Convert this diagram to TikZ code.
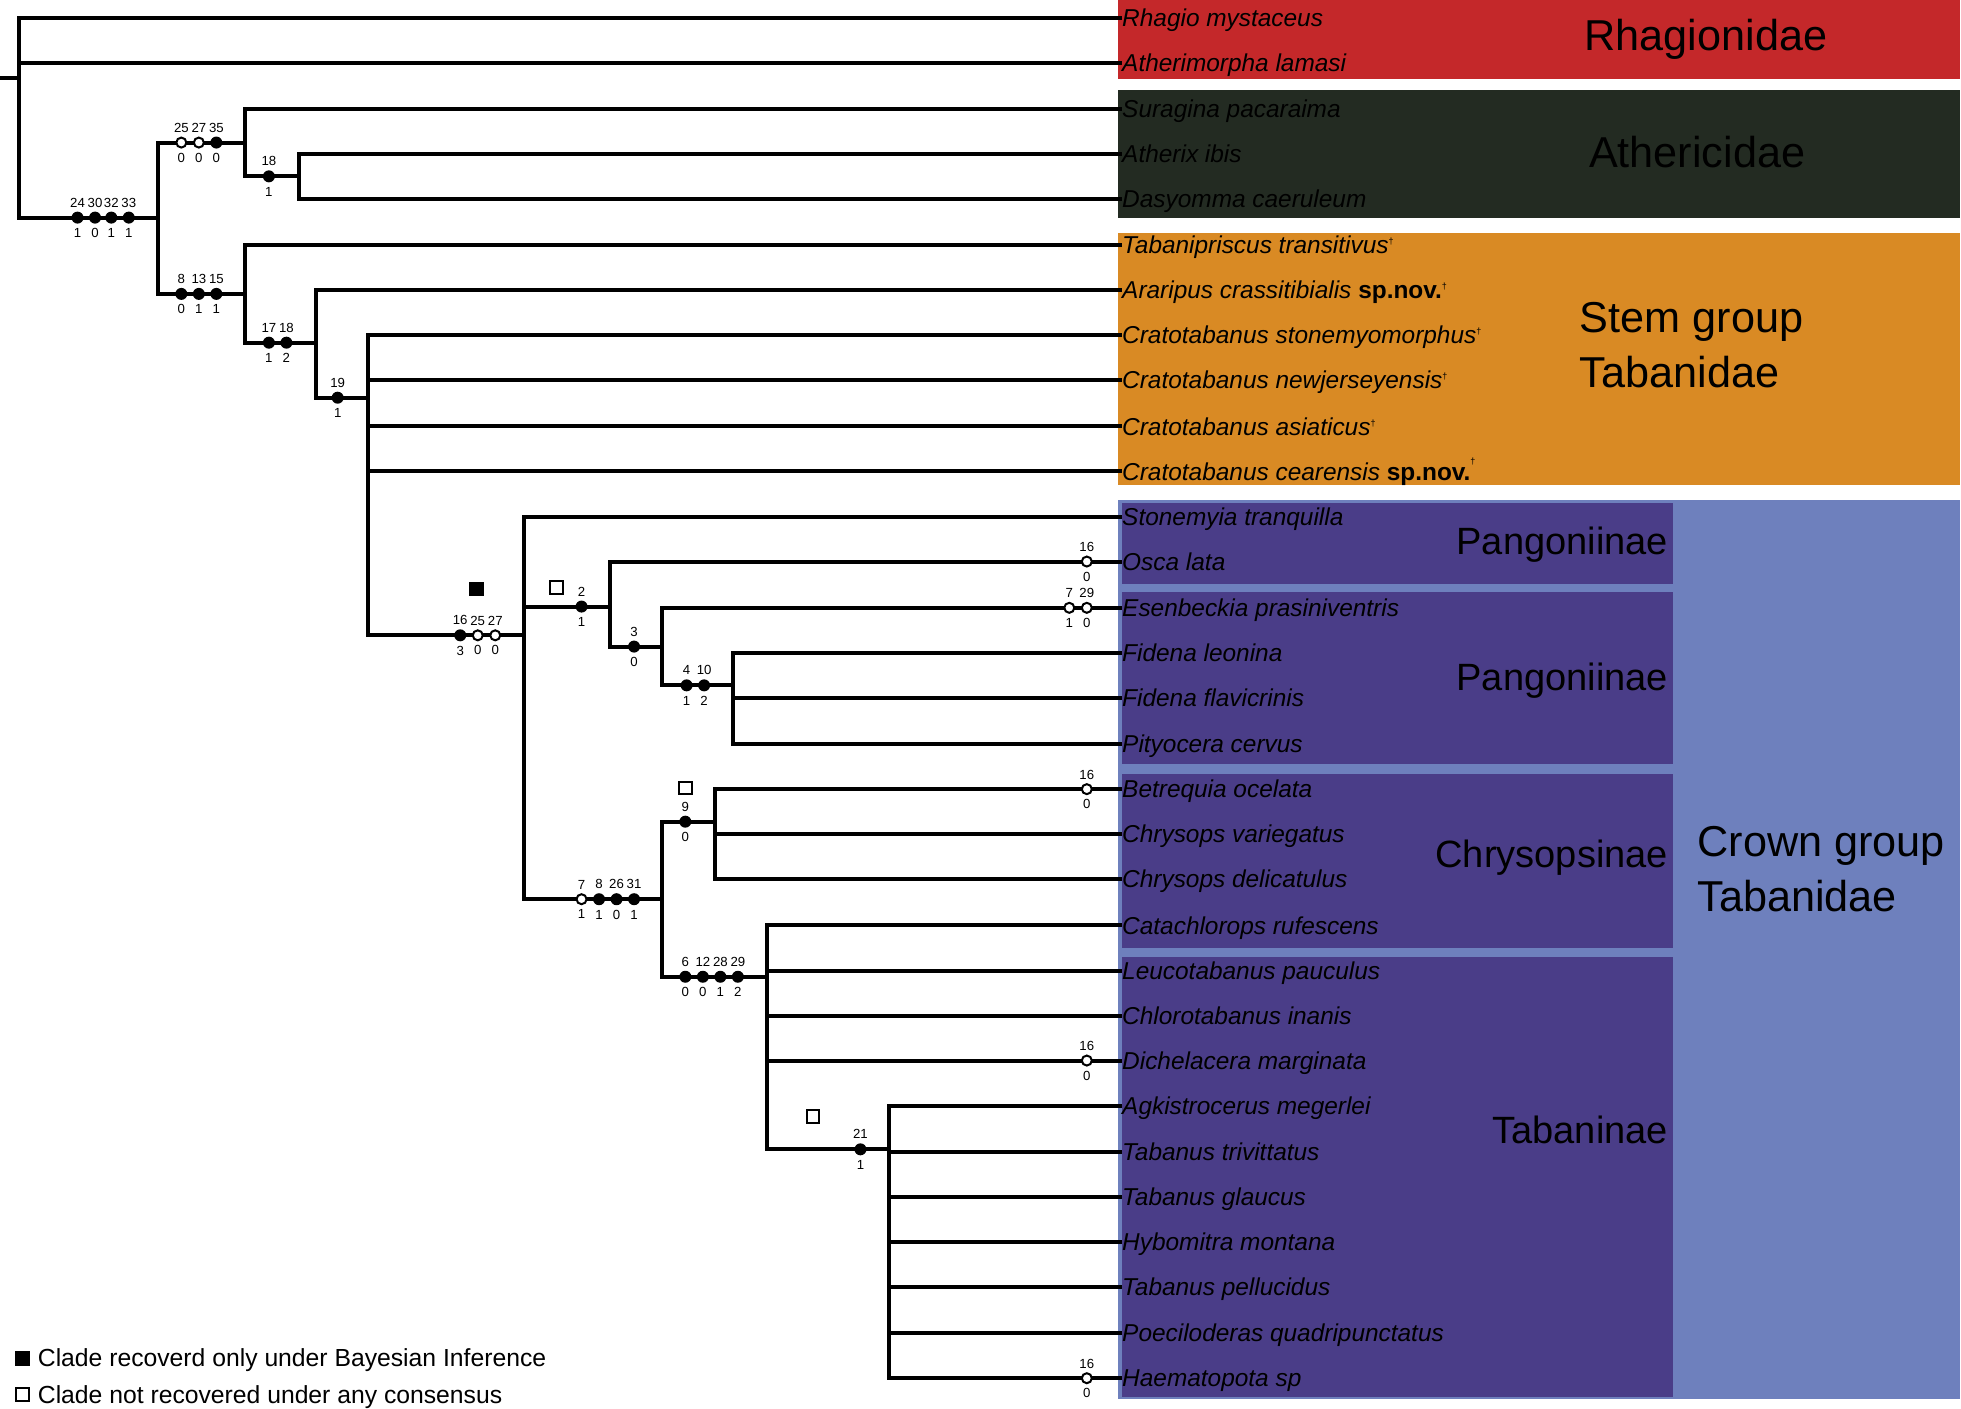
\documentclass[tikz,border=0pt]{standalone}
\usepackage{fontspec}
\setmainfont{Liberation Sans}
\definecolor{rhagred}{HTML}{C4282A}
\definecolor{athdark}{HTML}{232B22}
\definecolor{stemorange}{HTML}{D98A24}
\definecolor{crownblue}{HTML}{6E80BD}
\definecolor{subpurple}{HTML}{4A3D88}
\newcommand{\fossil}[1][4.5pt]{\raisebox{#1}{\upshape\fontsize{4.5}{5}\selectfont †}}
\newcommand{\spnov}{\textbf{\upshape sp.nov.}}

\begin{document}
\begin{tikzpicture}[x=0.625pt,y=-0.625pt,
  br/.style={line width=2pt},
  fmark/.style={circle,fill=black,inner sep=0pt,minimum size=6pt},
  omark/.style={circle,draw=black,fill=white,line width=1pt,inner sep=0pt,minimum size=5pt},
  label distance=1.8pt,
  every label/.style={font=\fontsize{6.6}{6.6}\selectfont,inner sep=0pt,text height=4.8pt,text depth=0pt},
  taxon/.style={anchor=west,inner sep=0pt,text height=8.7pt,text depth=0pt,font=\fontsize{12.2}{14}\selectfont\itshape},
  clade/.style={font=\fontsize{21.6}{27.5}\selectfont,inner sep=0pt},
  subfam/.style={font=\fontsize{19}{22}\selectfont,inner sep=0pt,anchor=base east},
  legtext/.style={anchor=west,inner sep=0pt,text height=8.7pt,text depth=0pt,font=\fontsize{12.35}{14}\selectfont},
  fsq/.style={rectangle,fill=black,inner sep=0pt,minimum size=7.2pt},
  osq/.style={rectangle,draw=black,fill=white,line width=1pt,inner sep=0pt,minimum size=6.4pt}]
\useasboundingbox (0,0) rectangle (1568,1126);

\fill[rhagred] (894,0) rectangle (1567,63);
\fill[athdark] (894,72) rectangle (1567,174);
\fill[stemorange] (894,186) rectangle (1567,388);
\fill[crownblue] (894,400) rectangle (1567,1119);
\fill[subpurple] (897,402) rectangle (1338,467);
\fill[subpurple] (897,473) rectangle (1338,611);
\fill[subpurple] (897,619) rectangle (1338,758);
\fill[subpurple] (897,765) rectangle (1338,1117);

\node(t1)[taxon] at (897,14){Rhagio mystaceus};
\node(t2)[taxon] at (897,50){Atherimorpha lamasi};
\node(t3)[taxon] at (897,87){Suragina pacaraima};
\node(t4)[taxon] at (897,123){Atherix ibis};
\node(t5)[taxon] at (897,159){Dasyomma caeruleum};
\node(t6)[taxon] at (897,196){Tabanipriscus transitivus\fossil};
\node(t7)[taxon] at (897,232){Araripus crassitibialis \spnov\fossil};
\node(t8)[taxon] at (897,268){Cratotabanus stonemyomorphus\fossil};
\node(t9)[taxon] at (897,304){Cratotabanus newjerseyensis\fossil};
\node(t10)[taxon] at (897,341){Cratotabanus asiaticus\fossil};
\node(t11)[taxon] at (897,377){Cratotabanus cearensis \spnov\fossil[8pt]};
\node(t12)[taxon] at (897,413){Stonemyia tranquilla};
\node(t13)[taxon] at (897,449){Osca lata};
\node(t14)[taxon] at (897,486){Esenbeckia prasiniventris};
\node(t15)[taxon] at (897,522){Fidena leonina};
\node(t16)[taxon] at (897,558){Fidena flavicrinis};
\node(t17)[taxon] at (897,595){Pityocera cervus};
\node(t18)[taxon] at (897,631){Betrequia ocelata};
\node(t19)[taxon] at (897,667){Chrysops variegatus};
\node(t20)[taxon] at (897,703){Chrysops delicatulus};
\node(t21)[taxon] at (897,740){Catachlorops rufescens};
\node(t22)[taxon] at (897,776){Leucotabanus pauculus};
\node(t23)[taxon] at (897,812){Chlorotabanus inanis};
\node(t24)[taxon] at (897,848){Dichelacera marginata};
\node(t25)[taxon] at (897,884){Agkistrocerus megerlei};
\node(t26)[taxon] at (897,921){Tabanus trivittatus};
\node(t27)[taxon] at (897,957){Tabanus glaucus};
\node(t28)[taxon] at (897,993){Hybomitra montana};
\node(t29)[taxon] at (897,1029){Tabanus pellucidus};
\node(t30)[taxon] at (897,1066){Poeciloderas quadripunctatus};
\node(t31)[taxon] at (897,1102){Haematopota sp};

\coordinate(base) at (0,62);
\coordinate(root) at (15,62);
\coordinate(nA) at (126,174);
\coordinate(nB) at (196,114);
\coordinate(nD) at (239,141);
\coordinate(nC) at (196,235);
\coordinate(nE) at (253,274);
\coordinate(nF) at (294,318);
\coordinate(nG) at (419,508);
\coordinate(nH) at (488,485);
\coordinate(nI) at (529,517);
\coordinate(nJ) at (586,548);
\coordinate(nK) at (529,719);
\coordinate(nL) at (572,657);
\coordinate(nM) at (613,781);
\coordinate(nN) at (711,919);

\draw[br] (base)--(root) (root)|-(t1.west) (root)|-(t2.west) (root)|-(nA);
\draw[br] (nA)|-(nB) (nA)|-(nC);
\draw[br] (nB)|-(t3.west) (nB)|-(nD);
\draw[br] (nD)|-(t4.west) (nD)|-(t5.west);
\draw[br] (nC)|-(t6.west) (nC)|-(nE);
\draw[br] (nE)|-(t7.west) (nE)|-(nF);
\draw[br] (nF)|-(t8.west) (nF)|-(t9.west) (nF)|-(t10.west) (nF)|-(t11.west) (nF)|-(nG);
\draw[br] (nG)|-(t12.west) (nG)|-(nH) (nG)|-(nK);
\draw[br] (nH)|-(t13.west) (nH)|-(nI);
\draw[br] (nI)|-(t14.west) (nI)|-(nJ);
\draw[br] (nJ)|-(t15.west) (nJ)|-(t16.west) (nJ)|-(t17.west);
\draw[br] (nK)|-(nL) (nK)|-(nM);
\draw[br] (nL)|-(t18.west) (nL)|-(t19.west) (nL)|-(t20.west);
\draw[br] (nM)|-(t21.west) (nM)|-(t22.west) (nM)|-(t23.west) (nM)|-(t24.west) (nM)|-(nN);
\draw[br] (nN)|-(t25.west) (nN)|-(t26.west) (nN)|-(t27.west) (nN)|-(t28.west) (nN)|-(t29.west) (nN)|-(t30.west) (nN)|-(t31.west);

\node(a24)[fmark,label=above:24,label=below:1] at (62,174){};
\node(a30)[fmark,label=above:30,label=below:0] at (76,174){};
\node(a32)[fmark,label=above:32,label=below:1] at (89,174){};
\node(a33)[fmark,label=above:33,label=below:1] at (103,174){};
\node(b25)[omark,label=above:25,label=below:0] at (145,114){};
\node(b27)[omark,label=above:27,label=below:0] at (159,114){};
\node(b35)[fmark,label=above:35,label=below:0] at (173,114){};
\node(d18)[fmark,label=above:18,label=below:1] at (215,141){};
\node(c8)[fmark,label=above:8,label=below:0] at (145,235){};
\node(c13)[fmark,label=above:13,label=below:1] at (159,235){};
\node(c15)[fmark,label=above:15,label=below:1] at (173,235){};
\node(e17)[fmark,label=above:17,label=below:1] at (215,274){};
\node(e18)[fmark,label=above:18,label=below:2] at (229,274){};
\node(f19)[fmark,label=above:19,label=below:1] at (270,318){};
\node(g16)[fmark,label=above:16,label=below:3] at (368,508){};
\node(g25)[omark,label=above:25,label=below:0] at (382,508){};
\node(g27)[omark,label=above:27,label=below:0] at (396,508){};
\node(h2)[fmark,label=above:2,label=below:1] at (465,485){};
\node(osca16)[omark,label=above:16,label=below:0] at (869,449){};
\node(i3)[fmark,label=above:3,label=below:0] at (507,517){};
\node(esen7)[omark,label=above:7,label=below:1] at (855,486){};
\node(esen29)[omark,label=above:29,label=below:0] at (869,486){};
\node(j4)[fmark,label=above:4,label=below:1] at (549,548){};
\node(j10)[fmark,label=above:10,label=below:2] at (563,548){};
\node(k7)[omark,label=above:7,label=below:1] at (465,719){};
\node(k8)[fmark,label=above:8,label=below:1] at (479,719){};
\node(k26)[fmark,label=above:26,label=below:0] at (493,719){};
\node(k31)[fmark,label=above:31,label=below:1] at (507,719){};
\node(l9)[fmark,label=above:9,label=below:0] at (548,657){};
\node(betr16)[omark,label=above:16,label=below:0] at (869,631){};
\node(m6)[fmark,label=above:6,label=below:0] at (548,781){};
\node(m12)[fmark,label=above:12,label=below:0] at (562,781){};
\node(m28)[fmark,label=above:28,label=below:1] at (576,781){};
\node(m29)[fmark,label=above:29,label=below:2] at (590,781){};
\node(dich16)[omark,label=above:16,label=below:0] at (869,848){};
\node(n21)[fmark,label=above:21,label=below:1] at (688,919){};
\node(haem16)[omark,label=above:16,label=below:0] at (869,1102){};

\node(bayes)[fsq] at (381,471){};
\node(nocons1)[osq] at (445,470){};
\node(nocons2)[osq] at (548,630){};
\node(nocons3)[osq] at (650,893){};

\node(rhag)[clade,anchor=base] at (1364,40){Rhagionidae};
\node(ather)[clade,anchor=base] at (1357,134){Athericidae};
\node(stem)[clade,anchor=west,align=left] at (1263,276){Stem group\\Tabanidae};
\node(pang1)[subfam] at (1334,443){Pangoniinae};
\node(pang2)[subfam] at (1334,552){Pangoniinae};
\node(chrys)[subfam] at (1334,694){Chrysopsinae};
\node(taban)[subfam] at (1334,914){Tabaninae};
\node(crown)[clade,anchor=west,align=left] at (1357,695){Crown group\\Tabanidae};

\node(leg1)[fsq,minimum size=7.5pt] at (18,1086){};
\node(leg1t)[legtext] at (30,1086){Clade recoverd only under Bayesian Inference};
\node(leg2)[osq,minimum size=6.8pt] at (18,1115){};
\node(leg2t)[legtext] at (30,1115){Clade not recovered under any consensus};
\end{tikzpicture}
\end{document}
